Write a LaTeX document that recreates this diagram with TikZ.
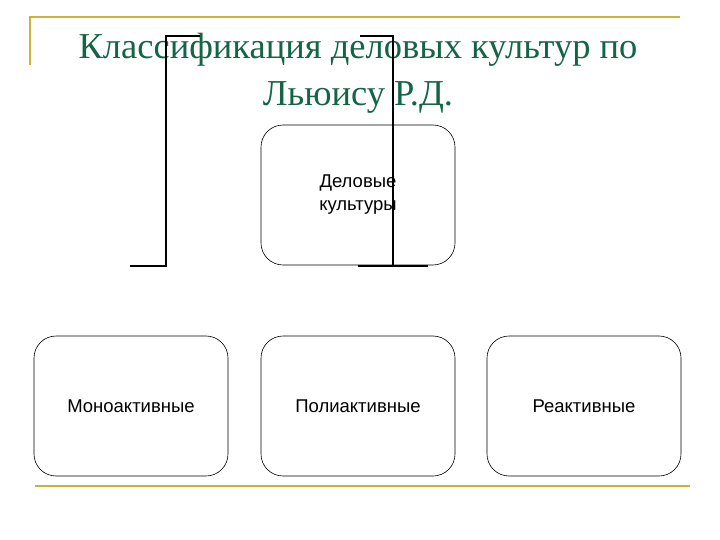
\documentclass[tikz,border=0pt]{standalone}
\usepackage{fontspec}
\setmainfont{Liberation Serif}
\newfontfamily\boxfont{Liberation Sans}
\definecolor{gold}{RGB}{204,178,60}
\definecolor{ttl}{RGB}{20,100,70}
\begin{document}
\begin{tikzpicture}[x=1pt,y=-1pt,
  box/.style={draw,rounded corners=22pt,minimum width=194pt,minimum height=140pt,font=\boxfont\fontsize{18.5}{23}\selectfont,align=center,line width=0.6pt},
  goldline/.style={draw=gold,line width=2pt},
  blk/.style={line width=2pt}]
\useasboundingbox (0,0) rectangle (720,540);
\draw[goldline] (30,65) -- (30,17) -- (680,17);
\draw[goldline] (35,486) -- (690,486);
\node[box] (top) at (358,195) {Деловые\\культуры};
\node[box] (m) at (131,406) {Моноактивные};
\node[box] (p) at (358,406) {Полиактивные};
\node[box] (r) at (584,406) {Реактивные};
\node[font=\fontsize{36.5}{47}\selectfont,text=ttl,align=center] (t) at (358,73) {Классификация деловых культур по\\Льюису Р.Д.};
\coordinate (a1) at (130,266); \coordinate (a2) at (166,266);
\coordinate (a3) at (166,36); \coordinate (a4) at (200,36);
\draw[blk] (a1) -- (a2) -- (a3) -- (a4);
\coordinate (b1) at (428,266); \coordinate (b2) at (358,266);
\coordinate (b3) at (393,266); \coordinate (b4) at (393,36); \coordinate (b5) at (360,36);
\draw[blk] (b2) -- (b1);
\draw[blk] (b3) -- (b4) -- (b5);
\end{tikzpicture}
\end{document}
